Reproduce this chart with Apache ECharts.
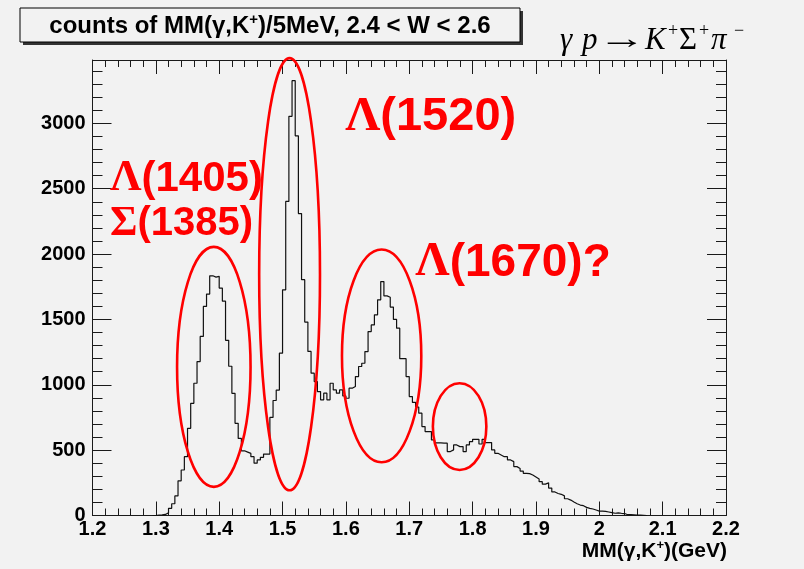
<!DOCTYPE html>
<html>
<head>
<meta charset="utf-8">
<script src="https://cdn.jsdelivr.net/npm/echarts@6/dist/echarts.min.js"></script>
<style>
  html, body { margin: 0; padding: 0; background: #ffffff; }
  #chart { width: 804px; height: 569px; }
</style>
</head>
<body>
<div id="chart"></div>
<script>
// Missing-mass histogram, 5 MeV bins, first bin starts at 1.295 GeV
const binStart = 1.295;
const binWidth = 0.005;
const counts = [
  0,
  3, 5, 8, 20, 55, 90, 150, 265, 348, 450,
  667, 858, 1012, 1178, 1370, 1600, 1694, 1834, 1824, 1830,
  1740, 1640, 1340, 1142, 935, 705, 590, 495, 485, 475,
  450, 400, 425, 445, 470, 470, 750, 880, 960, 1242,
  1727, 2403, 3054, 3327, 2905, 2310, 1804, 1480, 1255, 1089,
  1025, 948, 885, 936, 885, 1012, 961, 936, 961, 915,
  897, 974, 987, 1063, 1140, 1165, 1254, 1407, 1458, 1535,
  1650, 1790, 1680, 1670, 1595, 1500, 1433, 1200, 1200, 1063,
  910, 865, 830, 783, 680, 642, 642, 578, 555, 555,
  553, 553, 489, 502, 540, 527, 527, 489, 540, 565,
  583, 583, 547, 583, 558, 558, 502, 476, 463, 450,
  450, 425, 412, 374, 360, 340, 323, 320, 310, 295,
  280, 259, 240, 250, 210, 180, 168, 162, 150, 128,
  118, 103, 90, 80, 75, 62, 55, 50, 42, 34,
  34, 32, 27, 22, 17, 20, 17, 15, 6, 6,
  5, 4, 3, 2, 0
];

// Axis ranges and tick spacing
const xRange = [1.2, 2.2];
const xStep = 0.1;
const yRange = [0, 3485];
const yStep = 500;

// Red annotation ellipses, centre and half-axes in data units (GeV, counts)
const ellipseCx = [1.3915, 1.5111, 1.6564, 1.7795];
const ellipseCy = [1137, 1846, 1221, 680];
const ellipseRx = [0.0580, 0.0480, 0.0626, 0.0422];
const ellipseRy = [918, 1653, 814, 332];

// Resonance labels: text, left edge / vertical centre (data units), font size
const resLabels = [['Λ', '(1520)'], ['Λ', '(1405)'], ['Σ', '(1385)'], ['Λ', '(1670)?']];
const resX = [1.5989, 1.2276, 1.2276, 1.7095];
const resY = [3049, 2574, 2230, 1932];
const resSize = [47, 42, 40, 46];

const chart = echarts.init(document.getElementById('chart'), null, { renderer: 'canvas' });

const histData = counts.map((c, i) => [binStart + i * binWidth, c]);
histData.push([binStart + counts.length * binWidth, counts[counts.length - 1]]);

const axisColor = '#1a1a1a';
const sans = '"Liberation Sans", Arial, Helvetica, sans-serif';
const serif = '"Liberation Serif", "Times New Roman", serif';

function frameX(pos, labels) {
  return {
    type: 'value', position: pos, min: xRange[0], max: xRange[1], interval: xStep,
    axisLine: { onZero: false, lineStyle: { color: axisColor, width: 1 } },
    axisTick: { inside: true, length: 14, lineStyle: { color: axisColor, width: 1 } },
    minorTick: { show: true, splitNumber: 5, length: 7, lineStyle: { color: axisColor, width: 1 } },
    splitLine: { show: false },
    axisLabel: {
      show: labels, margin: 4, color: '#000', fontFamily: sans, fontWeight: 'bold', fontSize: 20,
      formatter: v => String(+(+v).toFixed(1))
    }
  };
}
function frameY(pos, labels) {
  return {
    type: 'value', position: pos, min: yRange[0], max: yRange[1], interval: yStep,
    axisLine: { onZero: false, lineStyle: { color: axisColor, width: 1 } },
    axisTick: { inside: true, length: 19, lineStyle: { color: axisColor, width: 1 } },
    minorTick: { show: true, splitNumber: 5, length: 10, lineStyle: { color: axisColor, width: 1 } },
    splitLine: { show: false },
    axisLabel: {
      show: labels, margin: 7, color: '#000', fontFamily: sans, fontWeight: 'bold', fontSize: 20,
      formatter: v => (Math.round(v) % yStep === 0 ? String(Math.round(v)) : '')
    }
  };
}

chart.setOption({
  animation: false,
  backgroundColor: '#f2f2f2',
  grid: { left: 92.5, right: 78, top: 60, bottom: 53.5, containLabel: false },
  xAxis: [frameX('bottom', true), frameX('top', false)],
  yAxis: [frameY('left', true), frameY('right', false)],
  series: [{
    type: 'line', step: 'end', data: histData, symbol: 'none',
    xAxisIndex: 0, yAxisIndex: 0,
    lineStyle: { color: '#111', width: 1.2 }
  }]
});

// Annotations: title box, reaction, axis title, ellipses, resonance names
const g = [];

g.push({ type: 'rect', shape: { x: 23, y: 11, width: 500, height: 34 }, style: { fill: '#333' }, z: 10 });
g.push({ type: 'rect', shape: { x: 20, y: 8, width: 500, height: 34 }, style: { fill: '#f2f2f2', stroke: '#000', lineWidth: 1 }, z: 11 });
g.push({
  type: 'text', z: 12, x: 270, y: 26,
  style: {
    text: '{a|counts of MM(γ,K}{s|+}{a|)/5MeV, 2.4 < W < 2.6}',
    align: 'center', verticalAlign: 'middle',
    rich: {
      a: { fontFamily: sans, fontWeight: 'bold', fontSize: 24, fill: '#000', lineHeight: 28 },
      s: { fontFamily: sans, fontWeight: 'bold', fontSize: 15, fill: '#000', verticalAlign: 'top', lineHeight: 28 }
    }
  }
});

// Reaction γ p → K⁺ Σ⁺ π⁻, set glyph by glyph
const reactionParts = [
  { t: 'γ', x: 560, y: 41, f: serif, s: 31, it: true },
  { t: 'p', x: 582, y: 41, f: serif, s: 31, it: true },
  { t: '→', x: 622, y: 40, f: serif, s: 30, c: true, sx: 1.6 },
  { t: 'K', x: 645, y: 41, f: serif, s: 31, it: true },
  { t: '+', x: 668, y: 31, f: serif, s: 18 },
  { t: 'Σ', x: 679, y: 41, f: serif, s: 31 },
  { t: '+', x: 699, y: 31, f: serif, s: 18 },
  { t: 'π', x: 711, y: 41, f: serif, s: 31, it: true },
  { t: '−', x: 734, y: 31, f: serif, s: 18 }
];
reactionParts.forEach(r => {
  g.push({
    type: 'text', z: 12, x: r.x, y: r.y, scaleX: r.sx || 1,
    style: {
      text: r.t, fill: '#000', align: r.c ? 'center' : 'left', verticalAlign: 'middle',
      font: (r.it ? 'italic ' : '') + r.s + 'px ' + r.f
    }
  });
});

g.push({
  type: 'text', z: 12, x: 727, y: 551,
  style: {
    text: '{a|MM(γ,K}{s|+}{a|)(GeV)}',
    align: 'right', verticalAlign: 'middle',
    rich: {
      a: { fontFamily: sans, fontWeight: 'bold', fontSize: 21, fill: '#000', lineHeight: 24 },
      s: { fontFamily: sans, fontWeight: 'bold', fontSize: 13, fill: '#000', verticalAlign: 'top', lineHeight: 24 }
    }
  }
});

for (let k = 0; k < ellipseCx.length; k++) {
  const c = chart.convertToPixel({ xAxisIndex: 0, yAxisIndex: 0 }, [ellipseCx[k], ellipseCy[k]]);
  const e = chart.convertToPixel({ xAxisIndex: 0, yAxisIndex: 0 }, [ellipseCx[k] + ellipseRx[k], ellipseCy[k] + ellipseRy[k]]);
  g.push({
    type: 'ellipse', z: 20,
    shape: { cx: c[0], cy: c[1], rx: Math.abs(e[0] - c[0]), ry: Math.abs(c[1] - e[1]) },
    style: { fill: 'none', stroke: '#ff0000', lineWidth: 2.6 }
  });
}

for (let k = 0; k < resLabels.length; k++) {
  const p = chart.convertToPixel({ xAxisIndex: 0, yAxisIndex: 0 }, [resX[k], resY[k]]);
  const fs = resSize[k];
  g.push({
    type: 'text', z: 21, x: p[0], y: p[1],
    style: {
      text: '{g|' + resLabels[k][0] + '}{a|' + resLabels[k][1] + '}',
      align: 'left', verticalAlign: 'middle',
      rich: {
        g: { fontFamily: serif, fontWeight: 'bold', fontSize: fs + 2, fill: '#ff0000', lineHeight: fs + 2 },
        a: { fontFamily: sans, fontWeight: 'bold', fontSize: fs, fill: '#ff0000', lineHeight: fs + 2 }
      }
    }
  });
}

chart.setOption({ graphic: g });
</script>
</body>
</html>
